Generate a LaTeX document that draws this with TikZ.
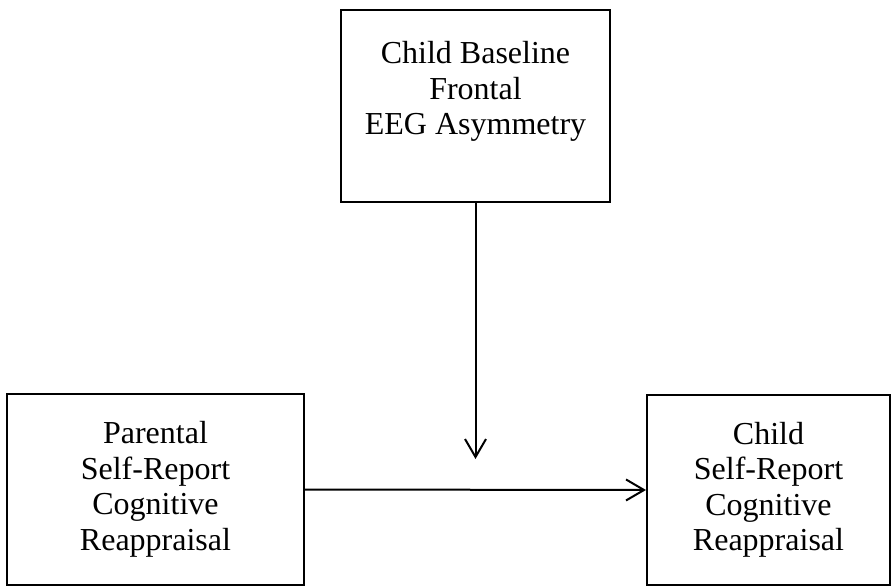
\documentclass[tikz,border=0pt]{standalone}
\usepackage{fontspec}
\setmainfont{Liberation Serif}
\usetikzlibrary{positioning, arrows.meta}

\begin{document}
\begin{tikzpicture}[x=1pt, y=-1pt,
    varbox/.style={draw=black, line width=2pt, align=center, inner sep=0pt,
      font=\fontsize{32}{35.5}\selectfont},
    link/.style={line width=2pt, -{Straight Barb[length=18pt, width=21pt]}}]
  \useasboundingbox (0,0) rectangle (892,587);
  \node[varbox, minimum width=269pt, minimum height=192pt] (eeg) at (475.5,106)
    {Child Baseline\\ Frontal\\ EEG Asymmetry\\ ~};
  \node[varbox, minimum width=297pt, minimum height=191pt] (parent) at (155.5,489.5)
    {Parental\\ Self-Report\\ Cognitive\\ Reappraisal};
  \node[varbox, minimum width=243pt, minimum height=190pt] (child) at (768.5,490)
    {Child\\ Self-Report\\ Cognitive\\ Reappraisal};
  \coordinate (mod) at (475.5,459);
  \draw[link] (eeg.south) -- (mod);
  \draw[link] (parent.east) -- (child.west);
\end{tikzpicture}
\end{document}
